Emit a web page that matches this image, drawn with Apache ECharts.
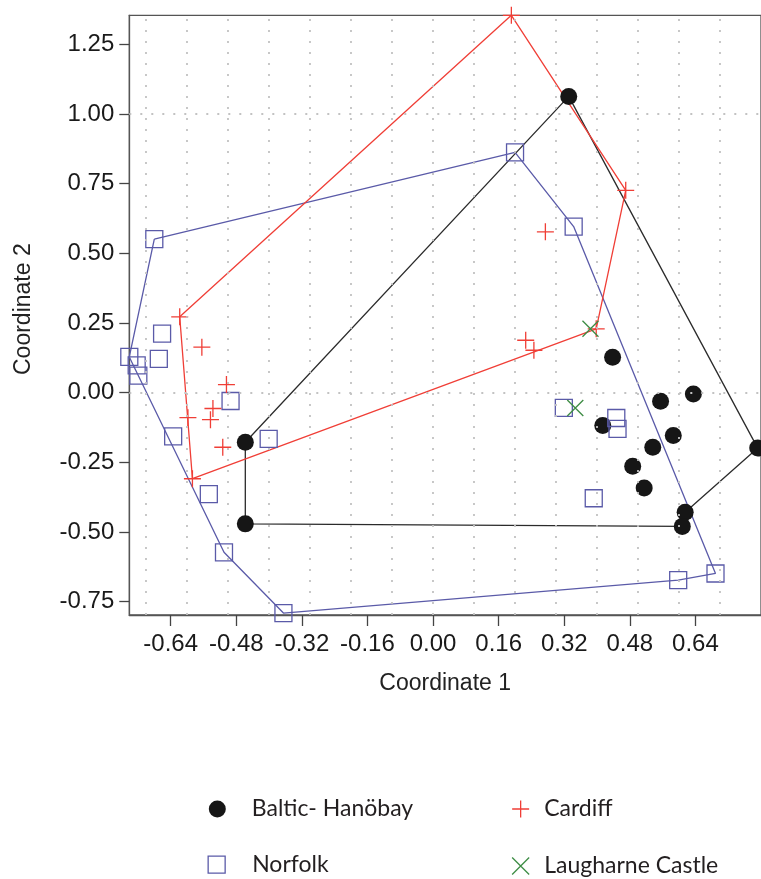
<!DOCTYPE html>
<html><head><meta charset="utf-8">
<script src="https://cdn.jsdelivr.net/npm/echarts@6/dist/echarts.min.js"></script>
<style>html,body{margin:0;padding:0;background:#fff}#c{width:761px;height:879px}</style>
</head><body><div id="c"></div>
<script>
// ---- data ----
const balticX = [0.331, -0.458, -0.458, 0.438, 0.555, 0.635, 0.414, 0.586, 0.536, 0.487, 0.515, 0.615, 0.608, 0.792];
const balticY = [1.063, -0.178, -0.471, 0.127, -0.031, -0.005, -0.118, -0.154, -0.196, -0.264, -0.342, -0.429, -0.480, -0.199];
const balticHull = [0, 13, 11, 12, 2, 1, 0];

const norfolkX = [-0.680, 0.200, 0.343, -0.741, -0.723, -0.719, -0.661, -0.669, -0.494, -0.634, -0.401, -0.547, -0.510, -0.365, 0.319, 0.447, 0.450, 0.392, 0.598, 0.689];
const norfolkY = [0.551, 0.862, 0.596, 0.128, 0.098, 0.061, 0.212, 0.121, -0.030, -0.157, -0.166, -0.364, -0.573, -0.791, -0.055, -0.091, -0.130, -0.379, -0.673, -0.649];
const norfolkHull = [0, 1, 2, 19, 18, 13, 12, 3, 0];

const cardiffX = [0.191, 0.470, 0.274, -0.618, -0.564, -0.504, -0.537, -0.543, -0.598, -0.513, -0.587, 0.226, 0.246, 0.398];
const cardiffY = [1.354, 0.726, 0.577, 0.272, 0.163, 0.029, -0.057, -0.097, -0.090, -0.196, -0.309, 0.188, 0.152, 0.229];
const cardiffHull = [0, 1, 13, 10, 3, 0];

const laugharneX = [0.384, 0.347];
const laugharneY = [0.229, -0.055];

const xTicks = [-0.64, -0.48, -0.32, -0.16, 0.00, 0.16, 0.32, 0.48, 0.64];
const yTicks = [-0.75, -0.50, -0.25, 0.00, 0.25, 0.50, 0.75, 1.00, 1.25];
const xGridLines = [-0.7, -0.6, -0.5, -0.4, -0.3, -0.2, -0.1, 0, 0.1, 0.2, 0.3, 0.4, 0.5, 0.6, 0.7];
const yGridLines = [0, 1];

const names = ['Baltic- Hanöbay', 'Norfolk', 'Cardiff', 'Laugharne Castle'];

// ---- styles ----
const C_BLACK = '#161616', C_BLACK_LINE = '#2b2b2b';
const C_BLUE = '#5a5aa8';
const C_RED = '#f03e36';
const C_GREEN = '#3d8c44';
const PLUS = 'path://M0,5L10,5M5,0L5,10';
const CROSS = 'path://M0,0L10,10M10,0L0,10';

function pts(xs, ys) { return xs.map((x, i) => [x, ys[i]]); }
function hull(xs, ys, idx) { return idx.map(i => [xs[i], ys[i]]); }

function hullSeries(id, data, color) {
  return { name: id, type: 'line', data: data, symbol: 'none', silent: true, clip: false, z: 2,
    lineStyle: { color: color, width: 1.3 }, animation: false };
}
function scatterSeries(name, data, symbol, size, style) {
  return { name: name, type: 'scatter', data: data, symbol: symbol, symbolSize: size, clip: false, z: 3,
    itemStyle: Object.assign({ opacity: 1 }, style), silent: true, animation: false };
}

const legendText = { fontFamily: 'Lato', fontSize: 23, color: '#231f20' };
function legendOf(name, icon, style, left, top, padLeft) {
  return { data: [{ name: name, icon: icon, itemStyle: style }], left: left, top: top, padding: 0,
    itemWidth: 17, itemHeight: 17, selectedMode: false,
    textStyle: Object.assign({ padding: [0, 0, 0, padLeft] }, legendText) };
}

const axisFont = { fontFamily: 'Liberation Sans, Arial, sans-serif', fontSize: 24, color: '#1a1a1a' };

const chart = echarts.init(document.getElementById('c'), null, { renderer: 'canvas' });
chart.setOption({
  animation: false,
  backgroundColor: '#fff',
  grid: { left: 129.3, top: 15.3, width: 635, height: 599.7, show: true, borderColor: '#555', borderWidth: 1.3 },
  xAxis: {
    type: 'value', min: -0.741, max: 0.80,
    name: 'Coordinate 1', nameLocation: 'middle', nameGap: 57,
    nameTextStyle: { fontFamily: 'Liberation Sans, Arial, sans-serif', fontSize: 23, color: '#222' },
    axisLine: { show: true, onZero: false, lineStyle: { color: '#555', width: 1.3 } },
    axisTick: { show: true, length: 11, customValues: xTicks, lineStyle: { color: '#444', width: 1.3 } },
    axisLabel: Object.assign({ customValues: xTicks, margin: 17, formatter: v => v.toFixed(2) }, axisFont),
    splitLine: { show: false }
  },
  yAxis: {
    type: 'value', min: -0.798, max: 1.354,
    name: 'Coordinate 2', nameLocation: 'middle', nameGap: 94, nameRotate: 90,
    nameTextStyle: { fontFamily: 'Liberation Sans, Arial, sans-serif', fontSize: 23, color: '#222', padding: [0, 0, 0, 12] },
    axisLine: { show: true, onZero: false, lineStyle: { color: '#555', width: 1.3 } },
    axisTick: { show: true, length: 10, customValues: yTicks, lineStyle: { color: '#444', width: 1.3 } },
    axisLabel: Object.assign({ customValues: yTicks, margin: 15, formatter: v => v.toFixed(2) }, axisFont),
    splitLine: { show: false }
  },
  legend: [
    legendOf(names[0], 'circle', { color: C_BLACK, borderWidth: 0 }, 208.8, 797.5, 21),
    legendOf(names[1], 'rect', { color: 'rgba(0,0,0,0)', borderColor: C_BLUE, borderWidth: 1.3 }, 207.5, 853.2, 22),
    legendOf(names[2], PLUS, { color: 'rgba(0,0,0,0)', borderColor: C_RED, borderWidth: 1.3 }, 511.5, 797.5, 10),
    legendOf(names[3], CROSS, { color: 'rgba(0,0,0,0)', borderColor: C_GREEN, borderWidth: 1.3 }, 511.5, 854.5, 10)
  ],
  series: [
    { name: 'grid', type: 'line', data: [], silent: true, z: 1,
      markLine: { silent: true, symbol: 'none', label: { show: false }, animation: false,
        lineStyle: { color: '#c2c2c2', type: [2, 9], width: 1.8 },
        data: xGridLines.map(v => ({ xAxis: v })).concat(yGridLines.map(v => ({ yAxis: v }))) } },
    hullSeries('hull-baltic', hull(balticX, balticY, balticHull), C_BLACK_LINE),
    hullSeries('hull-norfolk', hull(norfolkX, norfolkY, norfolkHull), C_BLUE),
    hullSeries('hull-cardiff', hull(cardiffX, cardiffY, cardiffHull), C_RED),
    scatterSeries(names[0], pts(balticX, balticY), 'circle', 17, { color: C_BLACK }),
    scatterSeries(names[1], pts(norfolkX, norfolkY), 'rect', 17, { color: 'rgba(0,0,0,0)', borderColor: C_BLUE, borderWidth: 1.3 }),
    scatterSeries(names[2], pts(cardiffX, cardiffY), PLUS, 17, { color: 'rgba(0,0,0,0)', borderColor: C_RED, borderWidth: 1.3 }),
    scatterSeries(names[3], pts(laugharneX, laugharneY), CROSS, 16, { color: 'rgba(0,0,0,0)', borderColor: C_GREEN, borderWidth: 1.3 })
  ]
});
</script>
</body></html>
